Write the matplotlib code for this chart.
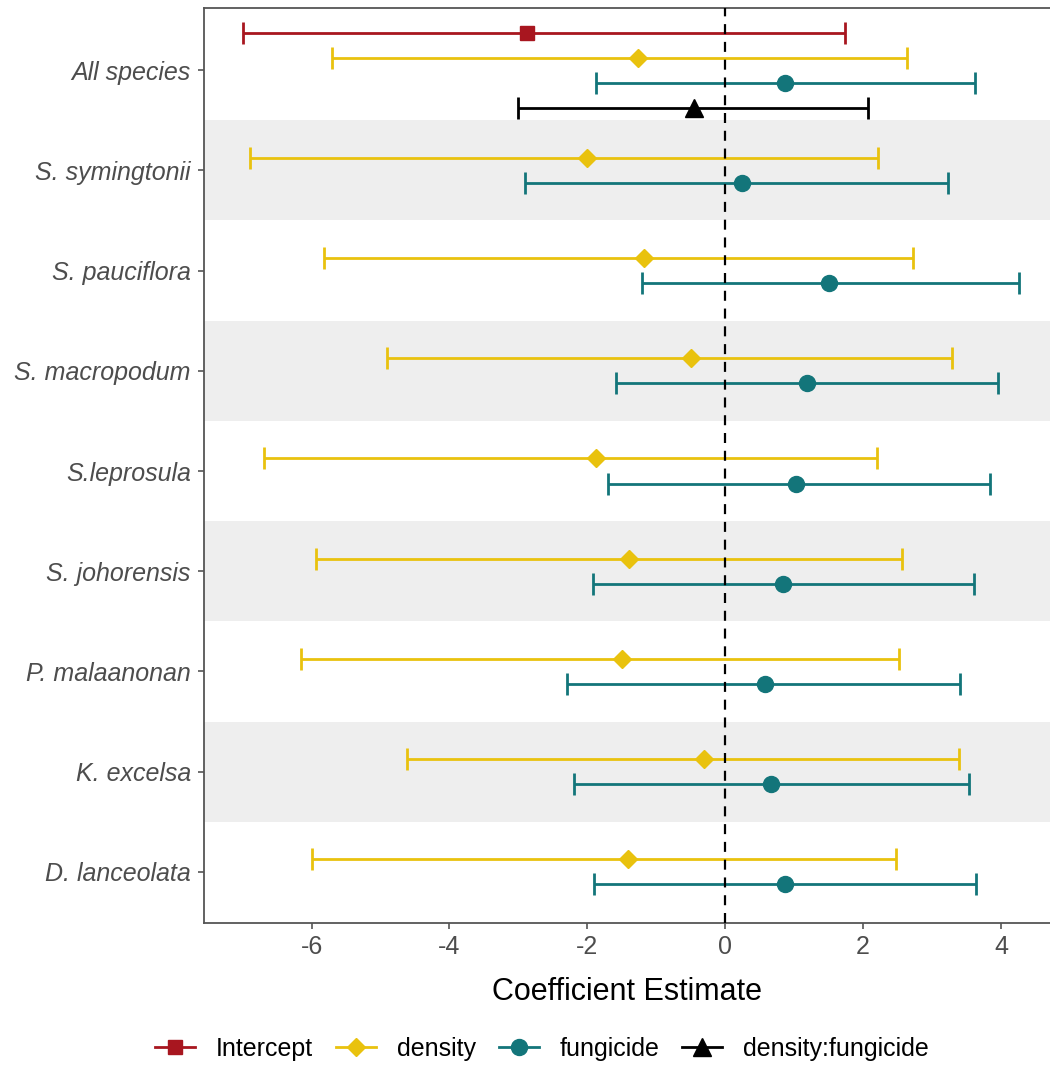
import numpy as np
import matplotlib
matplotlib.use("Agg")
import matplotlib.pyplot as plt
from matplotlib.lines import Line2D

plt.rcParams['font.family'] = ['Liberation Sans', 'DejaVu Sans']
plt.rcParams['axes.unicode_minus'] = False

species = ["All species", "S. symingtonii", "S. pauciflora", "S. macropodum",
           "S.leprosula", "S. johorensis", "P. malaanonan", "K. excelsa", "D. lanceolata"]

# coefficient estimates with lower / upper interval bounds
int_est = [-2.88]
int_lo = [-6.99]
int_hi = [1.73]

dens_est = [-1.27, -2.01, -1.18, -0.50, -1.88, -1.39, -1.50, -0.31, -1.41]
dens_lo = [-5.71, -6.89, -5.82, -4.91, -6.69, -5.94, -6.15, -4.61, -6.00]
dens_hi = [2.64, 2.21, 2.73, 3.29, 2.20, 2.56, 2.52, 3.39, 2.47]

fung_est = [0.86, 0.24, 1.50, 1.18, 1.02, 0.84, 0.57, 0.66, 0.87]
fung_lo = [-1.87, -2.91, -1.21, -1.58, -1.70, -1.92, -2.29, -2.19, -1.91]
fung_hi = [3.62, 3.23, 4.26, 3.96, 3.84, 3.61, 3.40, 3.53, 3.64]

inter_est = [-0.45]
inter_lo = [-3.00]
inter_hi = [2.07]

terms = ["Intercept", "density", "fungicide", "density:fungicide"]
colors = {"Intercept": "#A8161F", "density": "#E9C20E",
          "fungicide": "#13757A", "density:fungicide": "#000000"}
markers = {"Intercept": ("s", 10), "density": ("D", 9.5),
           "fungicide": ("o", 11.5), "density:fungicide": ("^", 13)}

# which rows each term covers
rows = {"Intercept": [0], "density": list(range(9)),
        "fungicide": list(range(9)), "density:fungicide": [0]}
vals = {"Intercept": (int_est, int_lo, int_hi),
        "density": (dens_est, dens_lo, dens_hi),
        "fungicide": (fung_est, fung_lo, fung_hi),
        "density:fungicide": (inter_est, inter_lo, inter_hi)}

# dodge positions inside each row
nterms = [sum(i in rows[t] for t in terms) for i in range(9)]
step = 0.25

fig = plt.figure(figsize=(10.5, 10.66), dpi=100)
ax = fig.add_axes([204/1050, 1 - 923/1066, 1 - 204/1050, (923 - 8)/1066])

for i in range(1, 9, 2):
    ax.axhspan(i - 0.5, i + 0.5, color="#EEEEEE", lw=0, zorder=0)

for t in terms:
    est, lo, hi = [np.array(v) for v in vals[t]]
    ys = []
    for i in rows[t]:
        present = [tt for tt in terms if i in rows[tt]]
        k = present.index(t)
        ys.append(i + (k - (nterms[i] - 1) / 2) * step)
    m, ms = markers[t]
    ax.errorbar(est, ys, xerr=[est - lo, hi - est], fmt=m, ms=ms,
                color=colors[t], ecolor=colors[t], elinewidth=2, capsize=8,
                capthick=2, zorder=3)

ax.axvline(0, color="black", lw=1.6, ls=(0, (4.5, 3.5)), zorder=4)

ax.set_xlim(-7.56, 4.71)
ax.set_ylim(8.51, -0.62)
ax.set_yticks(range(9))
ax.set_yticklabels(species, fontstyle="italic", fontsize=18, color="#4D4D4D")
ax.set_xticks([-6, -4, -2, 0, 2, 4])
ax.tick_params(axis="x", labelsize=18, labelcolor="#4D4D4D", color="#555555",
               length=4.5, width=1.2, pad=4)
ax.tick_params(axis="y", color="#555555", length=4.5, width=1.2, pad=5)
ax.set_xlabel("Coefficient Estimate", fontsize=22, labelpad=13)

for s in ["top", "left", "bottom"]:
    ax.spines[s].set_color("#555555")
    ax.spines[s].set_linewidth(1.3)
ax.spines["right"].set_visible(False)

handles = [Line2D([], [], color=colors[t], marker=markers[t][0],
                  ms=markers[t][1], lw=2) for t in terms]
fig.legend(handles, terms, loc="center", bbox_to_anchor=(542/1050, 1 - 1049/1066),
           ncol=4, frameon=False, fontsize=18, handlelength=1.6,
           handletextpad=0.85, columnspacing=0.9)

fig.savefig("out.png", dpi=100)
